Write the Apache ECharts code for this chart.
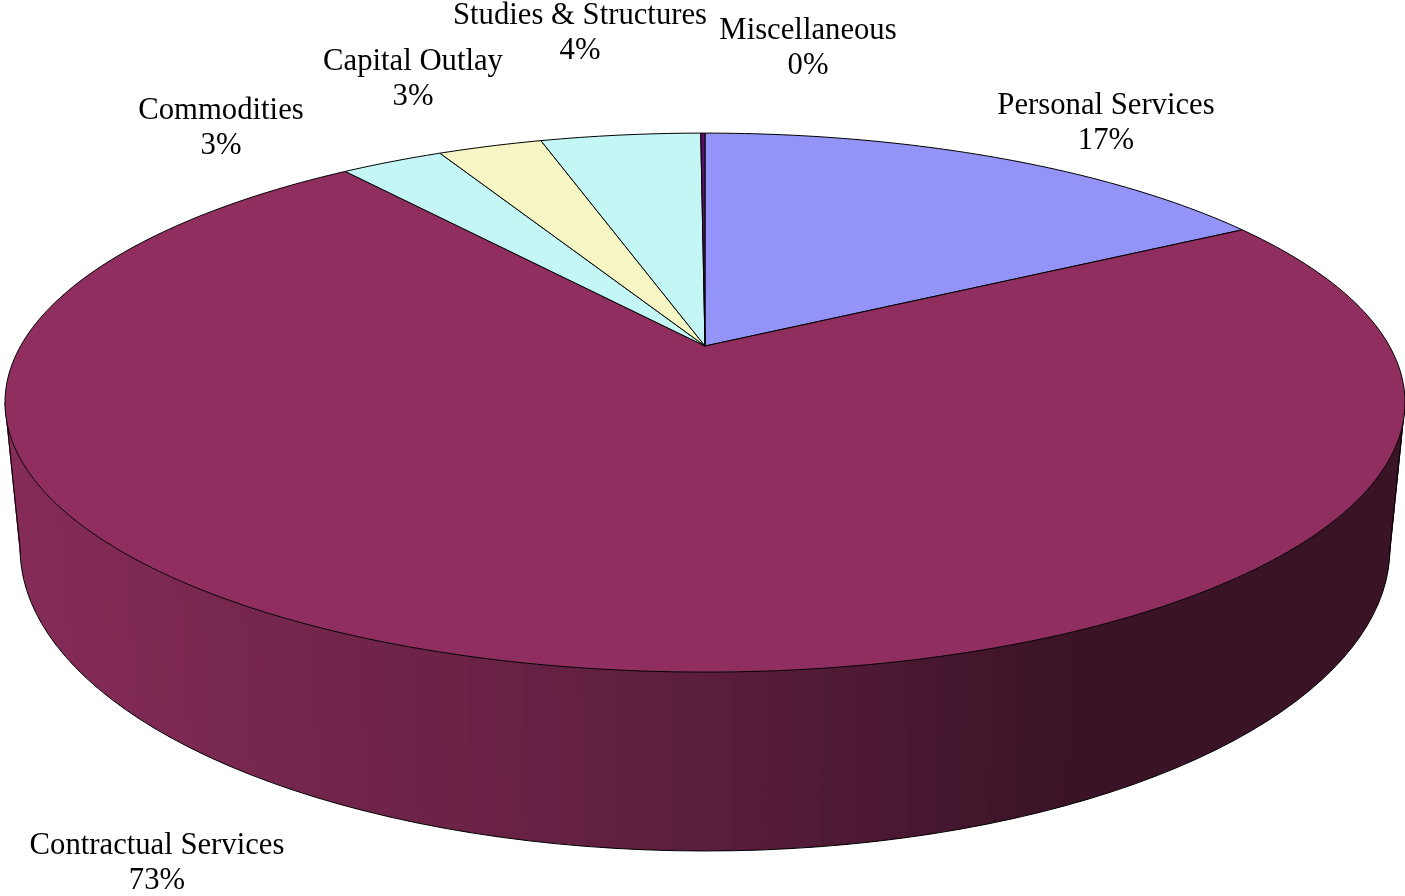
<!DOCTYPE html>
<html>
<head>
<meta charset="utf-8">
<title>Expenditures</title>
<style>
html,body{margin:0;padding:0;background:#fff}
#chart{width:1405px;height:896px}
</style>
<script src="https://cdn.jsdelivr.net/npm/echarts@6/dist/echarts.min.js"></script>
</head>
<body>
<div id="chart"></div>
<script>
const categories = ['Personal Services','Contractual Services','Commodities','Capital Outlay','Studies & Structures','Miscellaneous']
const shares = [16.7,72.8,2.9,2.95,4.53,0.12]
const shareLabels = ['17%','73%','3%','3%','4%','0%']
const sliceColors = ['#9393f8','#902f5f','#c5f6f6','#f6f6c5','#c5f6f6','#5c0f66']

// layout only: where each label block is centred
const labelSpots = [[1106,123.5],[157,863.5],[221,128.5],[413,79.5],[580,33.5],[808,48.5]]

// tilted disc projection, fitted to the picture. top face and base rim
const apexX = 705, tilt = 0.21
const topRim = {y: 346, sx: 684.4, sy: 257.6}
const baseRim = {y: 484.4, sx: 669.7, sy: 289.6}
const sideFrom = 102.1, sideTo = 257.9, sideStep = 2

const project = (deg, rim) => {
    const a = deg * Math.PI / 180
    const X = Math.sin(a), Y = -Math.cos(a)
    const w = 1 - tilt * Y
    return [apexX + rim.sx * X / w, rim.y + rim.sy * Y / w]
}

// side gets darker to the right, flat once past the last step
const shade = (hex, x) => {
    const f = x < 693 ? 0.92 - 0.28 * (x - 25) / 668
                      : Math.max(0.40, 0.64 - 0.22 * (x - 693) / 357)
    const n = parseInt(hex.slice(1), 16)
    const c = [n >> 16 & 255, n >> 8 & 255, n & 255].map(v => Math.round(v * f))
    return `rgb(${c[0]},${c[1]},${c[2]})`
}

const total = shares.reduce((a, b) => a + b, 0)
const startAngles = []
let running = 0
shares.forEach(v => { startAngles.push(running); running += v / total * 360 })

const renderSlice = (params, api) => {
    const i = params.dataIndex
    const from = startAngles[i]
    const to = from + api.value(0) / total * 360
    const color = sliceColors[i]
    const children = []

    // side wall, only the part facing us
    const a0 = Math.max(from, sideFrom), a1 = Math.min(to, sideTo)
    if (a1 > a0) {
        const edge = []
        for (let d = a0; d < a1; d += sideStep) {
            // each band runs under the next one so no seams show
            const e = Math.min(d + sideStep * 1.5, a1)
            const mid = project(d + sideStep / 2, topRim)
            children.push({
                type: 'polygon',
                shape: {points: [project(d, topRim), project(e, topRim), project(e, baseRim), project(d, baseRim)]},
                style: {fill: shade(color, mid[0])}
            })
            edge.push(project(d, baseRim))
        }
        edge.push(project(a1, baseRim))
        edge.unshift(project(a0, topRim))
        edge.push(project(a1, topRim))
        children.push({
            type: 'polyline',
            shape: {points: edge},
            style: {fill: 'none', stroke: '#000', lineWidth: 1}
        })
    }

    // top face
    const pts = [[apexX, topRim.y]]
    for (let d = from; d < to; d += 1) pts.push(project(d, topRim))
    pts.push(project(to, topRim))
    children.push({
        type: 'polygon',
        shape: {points: pts},
        style: {fill: color, stroke: '#000', lineWidth: 1, lineJoin: 'round'}
    })

    return {type: 'group', children}
}

const renderLabel = (params, api) => {
    const i = params.dataIndex
    return {
        type: 'text',
        x: labelSpots[i][0],
        y: labelSpots[i][1],
        style: {
            text: categories[i] + '\n' + shareLabels[i],
            fill: '#000',
            font: '30.7px "Liberation Serif", "Times New Roman", serif',
            lineHeight: 35,
            align: 'center',
            verticalAlign: 'middle'
        }
    }
}

const chart_d = echarts.init(document.getElementById('chart'), null, {renderer: 'canvas'})
chart_d.setOption({
    animation: false,
    backgroundColor: '#fff',
    series: [
        {
            type: 'custom',
            coordinateSystem: 'none',
            renderItem: renderSlice,
            data: shares.map(v => [v]),
            silent: true
        },
        {
            type: 'custom',
            coordinateSystem: 'none',
            renderItem: renderLabel,
            data: shares.map(v => [v]),
            silent: true
        }
    ]
})
</script>
</body>
</html>
